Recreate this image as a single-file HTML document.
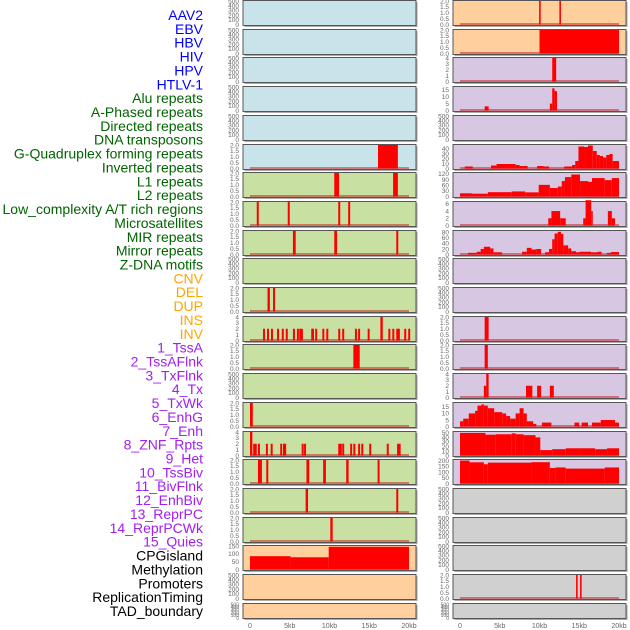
<!DOCTYPE html>
<html><head><meta charset="utf-8">
<style>
html,body{margin:0;padding:0;background:#fff;}
svg{display:block;font-family:"Liberation Sans",sans-serif;}
</style></head>
<body>
<svg id="chart" width="630" height="630" viewBox="0 0 630 630" xmlns="http://www.w3.org/2000/svg">
<g id="labels"></g>
<g id="panels"></g>
</svg>
<script>
const trackNames = ["AAV2","EBV","HBV","HIV","HPV","HTLV-1","Alu repeats","A-Phased repeats","Directed repeats","DNA transposons","G-Quadruplex forming repeats","Inverted repeats","L1 repeats","L2 repeats","Low_complexity A/T rich regions","Microsatellites","MIR repeats","Mirror repeats","Z-DNA motifs","CNV","DEL","DUP","INS","INV","1_TssA","2_TssAFlnk","3_TxFlnk","4_Tx","5_TxWk","6_EnhG","7_Enh","8_ZNF_Rpts","9_Het","10_TssBiv","11_BivFlnk","12_EnhBiv","13_ReprPC","14_ReprPCWk","15_Quies","CPGisland","Methylation","Promoters","ReplicationTiming","TAD_boundary"];
const trackColors = ["#0000ff","#0000ff","#0000ff","#0000ff","#0000ff","#0000ff","#006400","#006400","#006400","#006400","#006400","#006400","#006400","#006400","#006400","#006400","#006400","#006400","#006400","#ffa500","#ffa500","#ffa500","#ffa500","#ffa500","#a020f0","#a020f0","#a020f0","#a020f0","#a020f0","#a020f0","#a020f0","#a020f0","#a020f0","#a020f0","#a020f0","#a020f0","#a020f0","#a020f0","#a020f0","#000","#000","#000","#000","#000"];

const xTicks = [0,5,10,15,20];
const xTickLabels = ["0","5kb","10kb","15kb","20kb"];

const leftBg = ["#c9e3ea","#c9e3ea","#c9e3ea","#c9e3ea","#c9e3ea","#c9e3ea","#c8e0a2","#c8e0a2","#c8e0a2","#c8e0a2","#c8e0a2","#c8e0a2","#c8e0a2","#c8e0a2","#c8e0a2","#c8e0a2","#c8e0a2","#c8e0a2","#c8e0a2","#ffd09e","#ffd09e","#ffd09e"];
const rightBg = ["#ffd09e","#ffd09e","#d7c7e3","#d7c7e3","#d7c7e3","#d7c7e3","#d7c7e3","#d7c7e3","#d7c7e3","#d7c7e3","#d7c7e3","#d7c7e3","#d7c7e3","#d7c7e3","#d7c7e3","#d7c7e3","#d7c7e3","#d0d0d0","#d0d0d0","#d0d0d0","#d0d0d0","#d0d0d0"];

const T500 = [0,100,200,300,400,500];
const T2 = [0,0.5,1,1.5,2];
const leftMax = [500,500,500,500,500,2,2,2,2,500,2,4,2,500,2,4,2,2,2,150,500,500];
const leftTicks = [T500,T500,T500,T500,T500,T2,T2,T2,T2,T500,T2,[0,1,2,3,4],T2,T500,T2,[0,1,2,3,4],T2,T2,T2,[0,50,100,150],T500,T500];
const rightMax = [2,2,4,17,500,47,125,6.5,85,500,500,2,2,4,18,52,205,500,500,500,2,500];
const rightTicks = [T2,T2,[0,1,2,3,4],[0,5,10,15],T500,[0,10,20,30,40],[0,30,60,90,120],[0,2,4,6],[0,20,40,60,80],T500,T500,T2,T2,[0,1,2,3,4],[0,5,10,15],[0,10,20,30,40,50],[0,50,100,150,200],T500,T500,T500,T2,T500];

const leftL11 = [1.64,2.14,2.64,3.4,4.0,4.5,5.4,5.9,6.2,6.4,7.7,7.8,8.2,9.1,9.6,11.1,11.6,13.2,13.6,14.8,17.4,17.9,18.4,18.6,19.4,19.9];
const leftL15 = [0.4,0.6,1.0,2.0,2.6,3.8,4.15,4.3,6.5,6.8,11.1,11.3,11.6,12.6,13.0,13.6,14.0,15.0,17.2,18.5,18.7];

const leftBars = [
 [],[],[],[],[],
 [[16.1,18.6,2]],
 [[10.6,11.2,2],[18.0,18.6,2]],
 [[0.85,1.1,2],[4.75,5.0,2],[11.1,11.35,2],[12.35,12.6,2]],
 [[5.4,5.75,2],[10.6,10.95,2],[18.4,18.65,2]],
 [],
 [[2.2,2.5,2],[2.9,3.15,2]],
 leftL11.map(k=>[k,k+0.25,2]).concat([[16.4,16.7,4]]),
 [[13.0,13.8,2]],
 [],
 [[0,0.35,2]],
 [[0,0.3,4]].concat(leftL15.map(k=>[k,k+0.25,2])),
 [[1.0,1.5,2],[2.05,2.3,2],[7.1,7.45,2],[9.2,9.55,2],[12.1,12.4,2],[16.05,16.3,2]],
 [[7.0,7.3,2],[18.4,18.65,2]],
 [[10.1,10.4,2]],
 [[0,5.1,85],[5.1,9.9,78],[9.9,20,145]],
 [],[]
];
const rightBars = [
 [[9.95,10.15,2],[12.5,12.7,2]],
 [[10.0,20,2]],
 [[11.6,12.1,4]],
 [[3.1,3.6,3],[11.3,11.6,5],[11.6,11.9,16],[11.9,12.2,14]],
 [],
 [[0.6,1.6,4],[3.9,4.6,6],[4.6,7.0,9],[7.0,7.5,7],[7.5,8.5,5],[9.7,10.5,5],[10.5,11.2,4],[13.1,14.1,4],[14.1,14.5,7],[14.5,14.9,15],[14.9,15.6,44],[15.6,16.1,43],[16.1,16.7,46],[16.7,17.2,35],[17.2,17.6,27],[17.6,18.0,25],[18.0,18.4,22],[18.4,18.8,27],[18.8,19.2,29],[19.2,20,15]],
 [[0,1.5,17],[1.5,3.5,15],[3.5,6.5,23],[6.5,8.2,27],[8.2,9.9,22],[9.9,11.3,62],[11.3,12.3,45],[12.3,12.8,53],[12.8,13.2,82],[13.2,14.0,103],[14.0,15.1,117],[15.1,16.1,82],[16.1,16.6,78],[16.6,18.2,98],[18.2,19.1,87],[19.1,20,98]],
 [[11.1,11.5,2],[11.5,12.6,4],[12.6,13.3,2],[15.5,15.8,2],[15.8,16.5,7],[16.5,16.7,4],[18.6,19.1,4],[19.1,19.5,2]],
 [[1.0,2.1,6],[2.1,2.6,10],[2.6,3.0,20],[3.0,3.8,28],[3.8,4.2,22],[4.2,5.3,8],[7.8,8.4,10],[8.4,9.0,24],[9.0,9.6,18],[9.6,10.2,20],[10.7,11.2,8],[11.2,11.6,20],[11.6,11.9,55],[11.9,12.3,76],[12.3,12.7,82],[12.7,13.0,75],[13.0,13.6,33],[13.6,14.0,22],[14.0,14.6,12],[14.6,15.0,8],[15.0,16.5,10],[16.5,17.3,8],[17.3,17.8,10],[18.5,19.0,6],[19.0,20,9]],
 [],[],
 [[3.1,3.6,2]],
 [[3.1,3.5,2]],
 [[3.0,3.3,2],[3.3,3.6,4],[8.3,9.1,2],[9.7,10.2,2],[11.3,11.8,2]],
 [[0,0.4,4],[0.4,1.1,6],[1.1,1.9,10],[1.9,2.2,12],[2.2,2.7,16],[2.7,3.0,17],[3.0,3.5,16],[3.5,4.3,14],[4.3,5.3,11],[5.3,5.8,10],[5.8,6.3,8],[6.3,7.0,6],[7.0,7.5,10],[7.5,8.0,14],[8.0,8.4,10],[8.4,9.2,4],[9.2,9.6,2],[10.3,11.5,3],[14.4,15.0,3],[15.3,16.1,3],[16.6,17.7,3],[17.7,19.5,5],[19.5,20,3]],
 [[0,3.2,50],[3.2,4.5,46],[4.5,6.5,47],[6.5,7.0,49],[7.0,8.0,47],[8.0,9.5,45],[9.5,10.1,40],[10.1,11.6,12],[11.6,13.3,14],[13.3,15.1,16],[15.1,17.0,16],[17.0,18.5,14],[18.5,20,16]],
 [[0,1.2,200],[1.2,3.0,185],[3.0,3.5,168],[3.5,9.0,182],[9.0,11.3,186],[11.3,12.0,135],[12.0,13.3,140],[13.3,18.2,130],[18.2,20,140]],
 [],[],[],
 [[14.6,14.8,2],[15.1,15.3,2]],
 []
];

const NS = "http://www.w3.org/2000/svg";
function mk(tag, attrs, parent){const e=document.createElementNS(NS,tag);for(const k in attrs)e.setAttribute(k,attrs[k]);parent.appendChild(e);return e;}

const lg = document.getElementById('labels');
trackNames.forEach((n,i)=>{
  const t = mk('text',{x:203,y:15+i*13.86+5,'text-anchor':'end','font-size':'14',fill:trackColors[i]},lg);
  
  
  t.textContent = n;
});

const pg = document.getElementById('panels');
function drawColumn(x0, bgs, maxes, ticks, bars, side){
  const W = 173, pitch = 28.7;
  const kbX = kb => x0 + 7 + kb*7.95;
  for(let i=0;i<22;i++){
    const top = Math.round(i*pitch)+0.5;
    const h = i===21 ? 15 : 25;
    const g = mk('g',{},pg);
    
    
    mk('rect',{x:x0+1.5,y:top+1.5,width:W,height:h,fill:'#aaa'},g);
    mk('rect',{x:x0,y:top,width:W,height:h,fill:bgs[i],stroke:'#555','stroke-width':1},g);
    const y0 = top + h - 1, y1 = top + 0.5;
    const yS = v => y0 - v/maxes[i]*(y0-y1);
    ticks[i].forEach(v=>{
      const lab = mk('text',{x:x0-4,y:yS(v)+2.3,'text-anchor':'end','font-size':i===21?'5':'6.5',fill:'#666'},g);
      
      
      lab.textContent = maxes[i]===2 ? v.toFixed(1) : String(v);
    });
    if(bars[i].length){
      const base = mk('line',{x1:kbX(0),x2:kbX(20),y1:y0-0.5,y2:y0-0.5,stroke:'rgba(200,0,0,0.45)','stroke-width':2},g);
      
      
    }
    bars[i].forEach(b=>{
      const r = mk('rect',{x:kbX(b[0]),y:yS(b[2]),width:Math.max(1.2,kbX(b[1])-kbX(b[0])),height:y0-yS(b[2]),fill:'#ff0000'},g);
      
      
    });
  }
  xTicks.forEach((v,j)=>{
    const t = mk('text',{x:kbX(v),y:628,'text-anchor':'middle','font-size':'7',fill:'#666'},pg);
    
    
    t.textContent = xTickLabels[j];
  });
}
drawColumn(243, leftBg, leftMax, leftTicks, leftBars, 'left');
drawColumn(453, rightBg, rightMax, rightTicks, rightBars, 'right');
</script>
</body></html>
